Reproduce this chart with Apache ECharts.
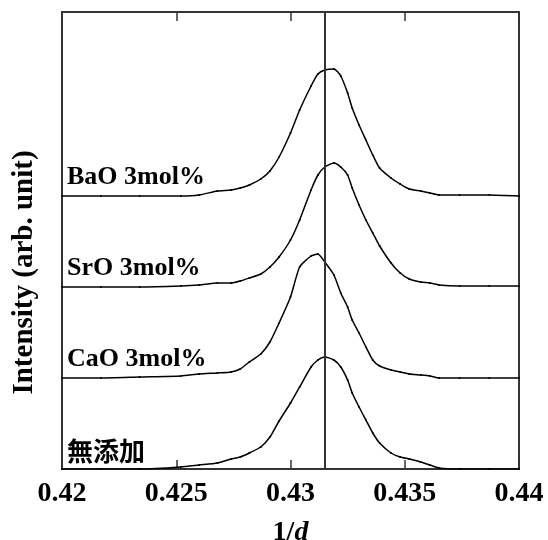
<!DOCTYPE html>
<html lang="ja">
<head>
    <meta charset="UTF-8">
    <title>XRD peak</title>
    <style>
        * { margin: 0; }
        body { background: #fff; }
        #main { width: 548px; height: 540px; }
    </style>
    <script src="https://cdn.jsdelivr.net/npm/echarts@6/dist/echarts.min.js"></script>
</head>
<body>
<div id="main"></div>
<script>
    var myChart = echarts.init(document.getElementById('main'));

    // 1/d values shared by all four profiles
    var invD = [0.4200, 0.4217, 0.4234, 0.4252, 0.4260, 0.4268, 0.4274, 0.4278, 0.4282, 0.4287,
        0.4291, 0.4295, 0.4300, 0.4304, 0.4309, 0.4312, 0.4315, 0.4319, 0.4322, 0.4325,
        0.4327, 0.4330, 0.4333, 0.4336, 0.4339, 0.4344, 0.4348, 0.4352, 0.4357, 0.4361,
        0.4365, 0.4374, 0.4387, 0.4400];
    // intensities (arb. unit, stacked with offsets as in the figure)
    var baO = [273, 273, 273, 273, 274, 278, 279, 281, 284, 290, 298, 312, 336, 359, 383, 395, 399, 400, 393, 376,
        361, 344, 329, 314, 301, 291, 285, 280, 278, 276, 274, 274, 274, 273];
    var srO = [182, 182, 182, 183, 184, 186, 186, 188, 191, 195, 202, 212, 229, 249, 279, 294, 302, 306, 302, 294,
        281, 264, 249, 236, 223, 206, 196, 190, 187, 186, 184, 183, 183, 183];
    var caO = [91, 91, 92, 93, 95, 96, 97, 100, 107, 115, 127, 146, 172, 202, 213, 215, 207, 194, 176, 162,
        149, 136, 122, 109, 103, 99, 97, 95, 94, 93, 91, 91, 91, 91];
    var mutenka = [0, 0, 0, 2, 4, 6, 10, 12, 16, 22, 32, 48, 66, 82, 102, 109, 112, 109, 102, 89,
        76, 62, 49, 36, 26, 16, 12, 10, 7, 4, 1, 0, 0, 0];
    var names = ['BaO 3mol%', 'SrO 3mol%', 'CaO 3mol%', '無添加'];
    var profiles = [baO, srO, caO, mutenka];
    var refLine = 0.4315;

    var xTicks = [0.42, 0.425, 0.43, 0.435, 0.44];

    var serifBold = {fontFamily: '"Liberation Serif", "Times New Roman", serif', fontWeight: 'bold', color: '#000'};

    function pairs(ys) {
        var out = [];
        for (var i = 0; i < invD.length; i++) {
            out.push([invD[i], ys[i]]);
        }
        return out;
    }

    var series = profiles.map(function (ys, k) {
        var s = {
            name: names[k],
            type: 'line',
            data: pairs(ys),
            smooth: 0.2,
            symbol: 'circle',
            symbolSize: 2,
            lineStyle: {color: '#000', width: 1.5},
            itemStyle: {color: '#000'},
            animation: false
        };
        if (k === 0) {
            s.markLine = {
                silent: true,
                precision: 4,
                symbol: 'none',
                label: {show: false},
                lineStyle: {color: '#333', width: 2, type: 'solid'},
                data: [{xAxis: refLine}],
                animation: false
            };
        }
        return s;
    });

    function axisLine() {
        return {show: true, onZero: false, lineStyle: {color: '#333', width: 2}};
    }
    function ticks() {
        return {show: true, inside: true, length: 9, lineStyle: {color: '#333', width: 1.5}};
    }

    option = {
        grid: {left: 62, right: 29, top: 12, bottom: 71, outerBoundsMode: 'none', containLabel: false},
        xAxis: [
            {
                type: 'value',
                min: xTicks[0],
                max: xTicks[xTicks.length - 1],
                interval: 0.005,
                name: '{a|1/}{b|d}',
                nameLocation: 'middle',
                nameGap: 50,
                nameTextStyle: {
                    rich: {
                        a: Object.assign({fontSize: 28}, serifBold),
                        b: Object.assign({fontSize: 28, fontStyle: 'italic'}, serifBold)
                    }
                },
                axisLine: axisLine(),
                axisTick: ticks(),
                axisLabel: Object.assign({fontSize: 28, margin: 11}, serifBold),
                splitLine: {show: false}
            },
            {
                type: 'value',
                position: 'top',
                min: xTicks[0],
                max: xTicks[xTicks.length - 1],
                interval: 0.005,
                axisLine: axisLine(),
                axisTick: ticks(),
                axisLabel: {show: false},
                splitLine: {show: false}
            }
        ],
        yAxis: [
            {
                type: 'value',
                min: 0,
                max: 457,
                name: 'Intensity (arb. unit)',
                nameLocation: 'middle',
                nameGap: 23,
                nameTextStyle: Object.assign({fontSize: 29, padding: [0, 64, 0, 0]}, serifBold),
                axisLine: axisLine(),
                axisTick: {show: false},
                axisLabel: {show: false},
                splitLine: {show: false}
            },
            {
                type: 'value',
                position: 'right',
                min: 0,
                max: 457,
                axisLine: axisLine(),
                axisTick: {show: false},
                axisLabel: {show: false},
                splitLine: {show: false}
            }
        ],
        series: series
    };
    myChart.setOption(option);

    // series names written just above each flat left baseline
    var labels = profiles.map(function (ys, k) {
        var p = myChart.convertToPixel({xAxisIndex: 0, yAxisIndex: 0}, [invD[0], ys[0]]);
        var cjk = k === 3;
        return {
            type: 'text',
            left: p[0] + 5,
            top: p[1] - (cjk ? 31 : 32),
            style: {
                text: names[k],
                fontSize: 26,
                fontWeight: 'bold',
                fontFamily: cjk ? '"Noto Sans CJK JP", sans-serif' : '"Liberation Serif", serif',
                fill: '#000'
            },
            silent: true
        };
    });
    myChart.setOption({graphic: labels});
</script>
</body>
</html>
